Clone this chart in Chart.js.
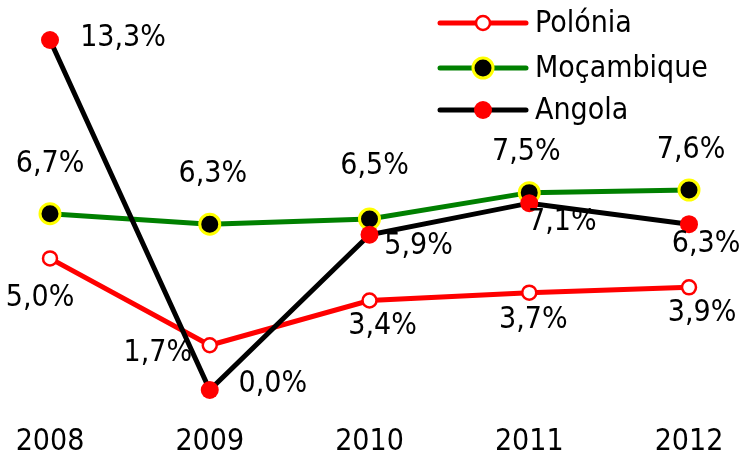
<!DOCTYPE html>
<html>
<head>
<meta charset="utf-8">
<script src="https://cdn.jsdelivr.net/npm/chart.js@4/dist/chart.umd.min.js"></script>
<style>
  html, body { margin: 0; padding: 0; background: #fff; }
  #wrap { width: 742px; height: 463px; }
</style>
</head>
<body>
<div id="wrap"><canvas id="chart"></canvas></div>
<script>
const years = ['2008', '2009', '2010', '2011', '2012'];
const polonia = [5.0, 1.7, 3.4, 3.7, 3.9];
const mocambique = [6.7, 6.3, 6.5, 7.5, 7.6];
const angola = [13.3, 0.0, 5.9, 7.1, 6.3];

const FONT = '"DejaVu Sans Condensed", "DejaVu Sans", sans-serif';

// where each value label sits relative to its point
const labelOffsets = [
    [[-10, 40], [-52, 8], [13, 26], [4, 28], [13, 26]],
    [[0, -49], [3, -50], [5, -53], [-3, -40], [2, -40]],
    [[73, -2], [63, -6], [49, 11], [33, 19], [17, 20]]
];

function fmt(v) {
    return v.toFixed(1).replace('.', ',') + '%';
}

const valueLabels = {
    id: 'valueLabels',
    afterDatasetsDraw(chart) {
        const ctx = chart.ctx;
        ctx.save();
        ctx.font = '30px ' + FONT;
        ctx.fillStyle = '#000';
        ctx.textAlign = 'center';
        ctx.textBaseline = 'middle';
        chart.data.datasets.forEach((ds, i) => {
            const meta = chart.getDatasetMeta(i);
            meta.data.forEach((pt, j) => {
                const off = labelOffsets[i][j];
                ctx.fillText(fmt(ds.data[j]), pt.x + off[0], pt.y + off[1]);
            });
        });
        ctx.restore();
    }
};

// legend with a short line through the marker
const lineLegend = {
    id: 'lineLegend',
    afterDraw(chart) {
        const ctx = chart.ctx;
        const rows = [23, 68, 110];
        ctx.save();
        chart.data.datasets.forEach((ds, i) => {
            const y = rows[i];
            ctx.strokeStyle = ds.borderColor;
            ctx.lineWidth = 5;
            ctx.lineCap = 'round';
            ctx.beginPath();
            ctx.moveTo(440, y);
            ctx.lineTo(526, y);
            ctx.stroke();
            ctx.beginPath();
            ctx.arc(483, y, ds.pointRadius, 0, Math.PI * 2);
            ctx.fillStyle = ds.pointBackgroundColor;
            ctx.fill();
            if (ds.pointBorderWidth > 0) {
                ctx.lineWidth = ds.pointBorderWidth;
                ctx.strokeStyle = ds.pointBorderColor;
                ctx.stroke();
            }
            ctx.fillStyle = '#000';
            ctx.font = '30px ' + FONT;
            ctx.textAlign = 'left';
            ctx.textBaseline = 'middle';
            ctx.fillText(ds.label, 535, y + 1);
        });
        ctx.restore();
    }
};

new Chart(document.getElementById('chart'), {
    type: 'line',
    data: {
        labels: years,
        datasets: [{
            label: 'Polónia',
            data: polonia,
            borderColor: '#ff0000',
            borderWidth: 5,
            pointRadius: 7,
            pointBackgroundColor: '#ffffff',
            pointBorderColor: '#ff0000',
            pointBorderWidth: 2.5,
            tension: 0,
            clip: false,
            order: 3
        }, {
            label: 'Moçambique',
            data: mocambique,
            borderColor: '#008000',
            borderWidth: 5,
            pointRadius: 10,
            pointBackgroundColor: '#000000',
            pointBorderColor: '#ffff00',
            pointBorderWidth: 3,
            tension: 0,
            clip: false,
            order: 2
        }, {
            label: 'Angola',
            data: angola,
            borderColor: '#000000',
            borderWidth: 5,
            pointRadius: 9,
            pointBackgroundColor: '#ff0000',
            pointBorderColor: '#ff0000',
            pointBorderWidth: 0,
            tension: 0,
            clip: false,
            order: 1
        }]
    },
    options: {
        responsive: true,
        maintainAspectRatio: false,
        animation: false,
        events: [],
        layout: {
            autoPadding: false,
            padding: { top: 40, left: 50, right: 53, bottom: 3 }
        },
        scales: {
            x: {
                offset: false,
                grid: { display: false, drawTicks: false },
                border: { display: false },
                ticks: {
                    color: '#000',
                    padding: 34,
                    maxRotation: 0,
                    font: { size: 30, family: FONT }
                },
                afterFit(scale) {
                    scale.height = 70;
                    scale.paddingLeft = 0;
                    scale.paddingRight = 0;
                }
            },
            y: {
                display: false,
                min: 0,
                max: 13.3
            }
        },
        plugins: {
            legend: { display: false },
            tooltip: { enabled: false }
        }
    },
    plugins: [valueLabels, lineLegend]
});
</script>
</body>
</html>
